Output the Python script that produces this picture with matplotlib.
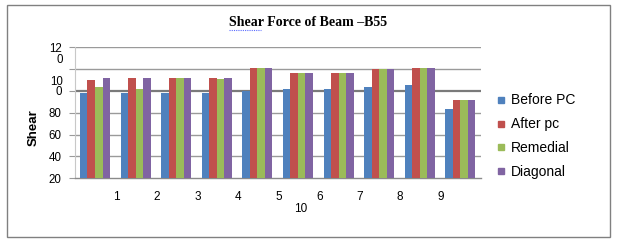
import matplotlib
matplotlib.use("Agg")
import matplotlib.pyplot as plt
from matplotlib.lines import Line2D
from matplotlib.patches import Rectangle
import numpy as np

plt.rcParams['font.family'] = ['Liberation Sans', 'DejaVu Sans']

# ---- data ----
groups = list(range(10))
before_pc = [98.3, 98.3, 98.3, 98.3, 100.1, 101.7, 101.7, 103.5, 105.3, 83.3]
after_pc = [109.9, 111.7, 111.7, 111.7, 121.0, 116.4, 116.4, 119.7, 121.0, 91.6]
remedial = [103.5, 101.7, 111.7, 110.8, 121.0, 116.4, 116.4, 119.7, 121.0, 91.6]
diagonal = [111.7, 111.7, 111.7, 111.7, 121.0, 116.4, 116.4, 119.7, 121.0, 91.6]
series_names = ['Before PC', 'After pc', 'Remedial', 'Diagonal']
colors = ['#4F81BD', '#C0504D', '#9BBB59', '#8064A2']

x_tick_pos = [0.53, 1.53, 2.52, 3.53, 4.52, 5.53, 6.52, 7.52, 8.52]
x_tick_labels = ['1', '2', '3', '4', '5', '6', '7', '8', '9']
x_extra_pos = [5.07]
x_extra_labels = ['10']

y_tick_pos = [20, 40, 60, 80, 100, 120, 140]
y_tick_labels = ['20', '40', '60', '80', '0', '', '12']
y_extra_pos = [110.0, 129.3]
y_extra_labels = ['10', '0']

title = 'Shear Force of Beam \u2013B55'
ylabel = 'Shear'

# ---- figure ----
W, H = 619, 242
fig = plt.figure(figsize=(W / 100, H / 100), dpi=100)
fig.patch.set_facecolor('white')

ax = fig.add_axes([74.7 / W, 1 - 178.3 / H, (480.6 - 74.7) / W, (178.3 - 47.3) / H])

bw = 0.185
x = np.arange(len(groups))
data = [before_pc, after_pc, remedial, diagonal]
for i, (vals, c) in enumerate(zip(data, colors)):
    ax.bar(x + (i - 1.5) * bw, vals, width=bw, color=c, bottom=0, zorder=3)

ax.set_xlim(-0.5, 9.5)
ax.set_ylim(20, 140)

# gridlines
for yv in y_tick_pos[1:]:
    lc = '#7a7a7a' if yv == 100 else '#9a9a9a'
    lw = 1.6 if yv == 100 else 1.0
    ax.axhline(yv, color=lc, linewidth=lw, zorder=1)

for s in ['top', 'right']:
    ax.spines[s].set_visible(False)
ax.spines['left'].set_color('#c8c8c8')
ax.spines['left'].set_linewidth(0.8)
ax.spines['bottom'].set_color('#8a8a8a')
ax.spines['bottom'].set_linewidth(1.0)

ax.set_yticks(y_tick_pos)
ax.set_yticklabels(y_tick_labels)
ax.set_yticks(y_extra_pos, minor=True)
ax.set_yticklabels(y_extra_labels, minor=True)
ax.tick_params(axis='y', which='major', length=4, color='#9a9a9a', pad=5.5, labelsize=8.3)
ax.tick_params(axis='y', which='minor', length=0, pad=8.5, labelsize=8.3)

ax.set_xticks(x_tick_pos)
ax.set_xticklabels(x_tick_labels)
ax.set_xticks(x_extra_pos, minor=True)
ax.set_xticklabels(x_extra_labels, minor=True)
ax.tick_params(axis='x', which='major', length=0, pad=9, labelsize=8.5)
ax.tick_params(axis='x', which='minor', length=0, pad=18, labelsize=8.5)

# legend
handles = [Line2D([0], [0], marker='s', linestyle='none', markersize=5,
                  markerfacecolor=c, markeredgecolor=c) for c in colors]
fig.legend(handles, series_names, loc='upper left',
           bbox_to_anchor=(497 / W, 1 - 93.5 / H), frameon=False,
           fontsize=10, labelspacing=0.71, handlelength=0.6,
           handletextpad=0.4, borderpad=0, borderaxespad=0)

# title
fig.text(308 / W, 1 - 22.3 / H, title, ha='center', va='center',
         fontsize=10, fontweight='bold', family=['Liberation Serif', 'DejaVu Serif'])
# spell-check squiggle under "Shear"
fig.add_artist(Line2D([229 / W, 261 / W], [1 - 29.5 / H, 1 - 29.5 / H],
                      color='#5a6cff', linewidth=0.8, linestyle=(0, (1, 1))))

# y label
fig.text(34 / W, 1 - 128 / H, ylabel, ha='center', va='center', rotation=90,
         fontsize=9.5, fontweight='bold')

# outer border
fig.add_artist(Rectangle((7 / W, 1 - 236.7 / H), (610.3 - 7) / W, (236.7 - 5) / H,
                         transform=fig.transFigure, fill=False,
                         edgecolor='#808080', linewidth=1.0))

fig.savefig('out.png', dpi=100)
